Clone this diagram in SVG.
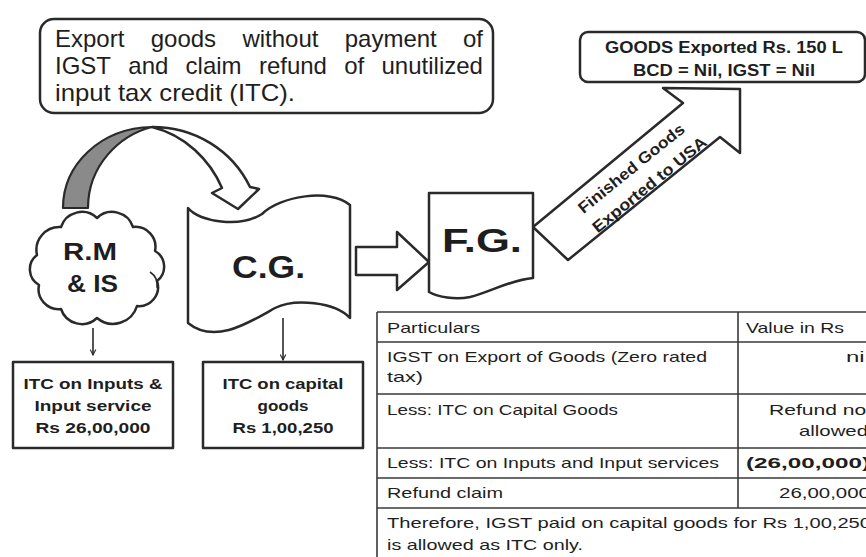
<svg xmlns="http://www.w3.org/2000/svg" width="866" height="557" viewBox="0 0 866 557">
<defs>
<style>
.shape{fill:#fff;stroke:#2a2a2a;stroke-width:2.5;stroke-linejoin:round}
.thin{fill:none;stroke:#2a2a2a;stroke-width:1.6}
.grid{stroke:#3a3a3a;stroke-width:1.6;fill:none}
.t{font-family:"Liberation Sans",Arial,sans-serif;fill:#1e1e1e}
.b{font-weight:bold}
.big{font-size:24px}
.box{font-size:15px;font-weight:bold;text-anchor:middle}
.tab{font-size:15px}
</style>
<marker id="ah" viewBox="0 0 10 10" refX="9" refY="5" markerWidth="7" markerHeight="7" orient="auto" markerUnits="userSpaceOnUse">
<path d="M1,1 L9,5 L1,9" fill="none" stroke="#2a2a2a" stroke-width="1.6"/>
</marker>
</defs>
<rect width="866" height="557" fill="#fff"/>

<g id="connectors">
<g id="curved-arrow">
<path d="M63,208 C63,165 100,128 152,127 C120,135 88,165 88,208 Z" fill="#8a8a8a" stroke="#2a2a2a" stroke-width="2.2" stroke-linejoin="round"/>
<path d="M152,127 C195,127 232,150 250,187 L259,189 L238,209 L212,193 L222,188 C210,160 185,135 152,127 Z" class="shape" stroke-width="2.2"/>
</g>
<path id="cg-to-fg" class="shape" d="M356,247 L397,247 L397,232 L429,262 L397,290 L397,275 L356,275 Z"/>
<path id="fg-to-export" class="shape" d="M533,227 L683,103 L663,88 L740,89 L740,153 L720,137 L568,260 Z"/>
<line class="thin" x1="93" y1="328" x2="93" y2="355" marker-end="url(#ah)"/>
<line class="thin" x1="283" y1="318" x2="283" y2="360" marker-end="url(#ah)"/>
</g>

<g id="node-intro">
<rect class="shape" x="40" y="19" width="453" height="94" rx="14"/>
<text class="t big" y="47"><tspan x="55">Export</tspan><tspan x="150.7">goods</tspan><tspan x="242.4">without</tspan><tspan x="344.7">payment</tspan><tspan x="463">of</tspan></text>
<text class="t big" y="74"><tspan x="55">IGST</tspan><tspan x="128.3">and</tspan><tspan x="185.6">claim</tspan><tspan x="258.9">refund</tspan><tspan x="344.2">of</tspan><tspan x="381.5">unutilized</tspan></text>
<text class="t big" x="55" y="101" textLength="240" lengthAdjust="spacingAndGlyphs">input tax credit (ITC).</text>
</g>

<g id="node-exported">
<rect class="shape" x="580" y="32" width="285" height="50" rx="8"/>
<text class="t b" x="605" y="53" font-size="16" textLength="238" lengthAdjust="spacingAndGlyphs">GOODS Exported Rs. 150 L</text>
<text class="t b" x="633" y="76" font-size="16" textLength="182" lengthAdjust="spacingAndGlyphs">BCD = Nil, IGST = Nil</text>
</g>

<g id="label-export-arrow" transform="translate(640,176) rotate(-39)">
<text class="t b" x="-2" y="-6" font-size="16" text-anchor="middle" textLength="132" lengthAdjust="spacingAndGlyphs">Finished Goods</text>
<text class="t b" x="2" y="18" font-size="16" text-anchor="middle" textLength="142" lengthAdjust="spacingAndGlyphs">Exported to USA</text>
</g>

<g id="node-rmis">
<path class="shape" d="M97,218 A22,22 0 0 1 133,227 A20,20 0 0 1 155,251 A18,18 0 0 1 157,281 A19,19 0 0 1 137,306 A25,25 0 0 1 97,318 A22,22 0 0 1 61,309 A20,20 0 0 1 39,285 A18,18 0 0 1 37,255 A23,23 0 0 1 61,227 A22,22 0 0 1 97,218 Z"/>
<path class="thin" d="M150,272 C156,276 158,282 157,288" stroke-width="2"/>
<text class="t b" x="90" y="260" font-size="24" text-anchor="middle" textLength="54" lengthAdjust="spacingAndGlyphs">R.M</text>
<text class="t b" x="92.5" y="292" font-size="24" text-anchor="middle" textLength="51" lengthAdjust="spacingAndGlyphs">&amp; IS</text>
</g>

<g id="node-cg">
<path class="shape" d="M188,208 C200,222 240,228 262,214 C280,196 330,188 350,205 L350,318 C335,302 295,298 275,308 C250,322 215,345 188,323 Z"/>
<text class="t b" x="268.5" y="278" font-size="32" text-anchor="middle" textLength="73" lengthAdjust="spacingAndGlyphs">C.G.</text>
</g>

<g id="node-fg">
<path class="shape" d="M429,193 L533,193 L533,278 C510,280 490,292 470,297 C455,300 438,297 429,292 Z"/>
<text class="t b" x="482" y="252" font-size="33" text-anchor="middle" textLength="80" lengthAdjust="spacingAndGlyphs">F.G.</text>
</g>

<g id="node-itc-inputs">
<rect class="shape" x="13" y="362" width="160" height="86" stroke-width="2.2"/>
<text class="t box" x="93" y="389" textLength="139" lengthAdjust="spacingAndGlyphs">ITC on Inputs &amp;</text>
<text class="t box" x="93" y="411" textLength="117" lengthAdjust="spacingAndGlyphs">Input service</text>
<text class="t box" x="93" y="433" textLength="115" lengthAdjust="spacingAndGlyphs">Rs 26,00,000</text>
</g>

<g id="node-itc-capital">
<rect class="shape" x="203" y="362" width="160" height="86" stroke-width="2.2"/>
<text class="t box" x="283" y="389" textLength="121" lengthAdjust="spacingAndGlyphs">ITC on capital</text>
<text class="t box" x="283" y="411" textLength="51" lengthAdjust="spacingAndGlyphs">goods</text>
<text class="t box" x="283" y="433" textLength="101" lengthAdjust="spacingAndGlyphs">Rs 1,00,250</text>
</g>

<g id="node-table">
<path class="grid" d="M377,312 H866 M377,342 H866 M377,394 H866 M377,448 H866 M377,478 H866 M377,508 H866 M377,312 V557 M738,312 V508"/>
<text class="t tab" x="387" y="333" textLength="93" lengthAdjust="spacingAndGlyphs">Particulars</text>
<text class="t tab" x="746" y="333" textLength="98" lengthAdjust="spacingAndGlyphs">Value in Rs</text>
<text class="t tab" x="387" y="362" textLength="320" lengthAdjust="spacingAndGlyphs">IGST on Export of Goods (Zero rated</text>
<text class="t tab" x="387" y="382" textLength="36" lengthAdjust="spacingAndGlyphs">tax)</text>
<text class="t tab" x="846" y="362" textLength="24" lengthAdjust="spacingAndGlyphs">nil</text>
<text class="t tab" x="387" y="415" textLength="231" lengthAdjust="spacingAndGlyphs">Less: ITC on Capital Goods</text>
<text class="t tab" x="769" y="415" textLength="103" lengthAdjust="spacingAndGlyphs">Refund not</text>
<text class="t tab" x="799" y="436" textLength="69" lengthAdjust="spacingAndGlyphs">allowed</text>
<text class="t tab" x="387" y="468" textLength="332" lengthAdjust="spacingAndGlyphs">Less: ITC on Inputs and Input services</text>
<text class="t tab b" x="746" y="468" textLength="124" lengthAdjust="spacingAndGlyphs">(26,00,000)</text>
<text class="t tab" x="387" y="498" textLength="116" lengthAdjust="spacingAndGlyphs">Refund claim</text>
<text class="t tab" x="779" y="498" textLength="91" lengthAdjust="spacingAndGlyphs">26,00,000</text>
<text class="t tab" x="387" y="528" textLength="484" lengthAdjust="spacingAndGlyphs">Therefore, IGST paid on capital goods for Rs 1,00,250</text>
<text class="t tab" x="387" y="550" textLength="196" lengthAdjust="spacingAndGlyphs">is allowed as ITC only.</text>
</g>
</svg>
